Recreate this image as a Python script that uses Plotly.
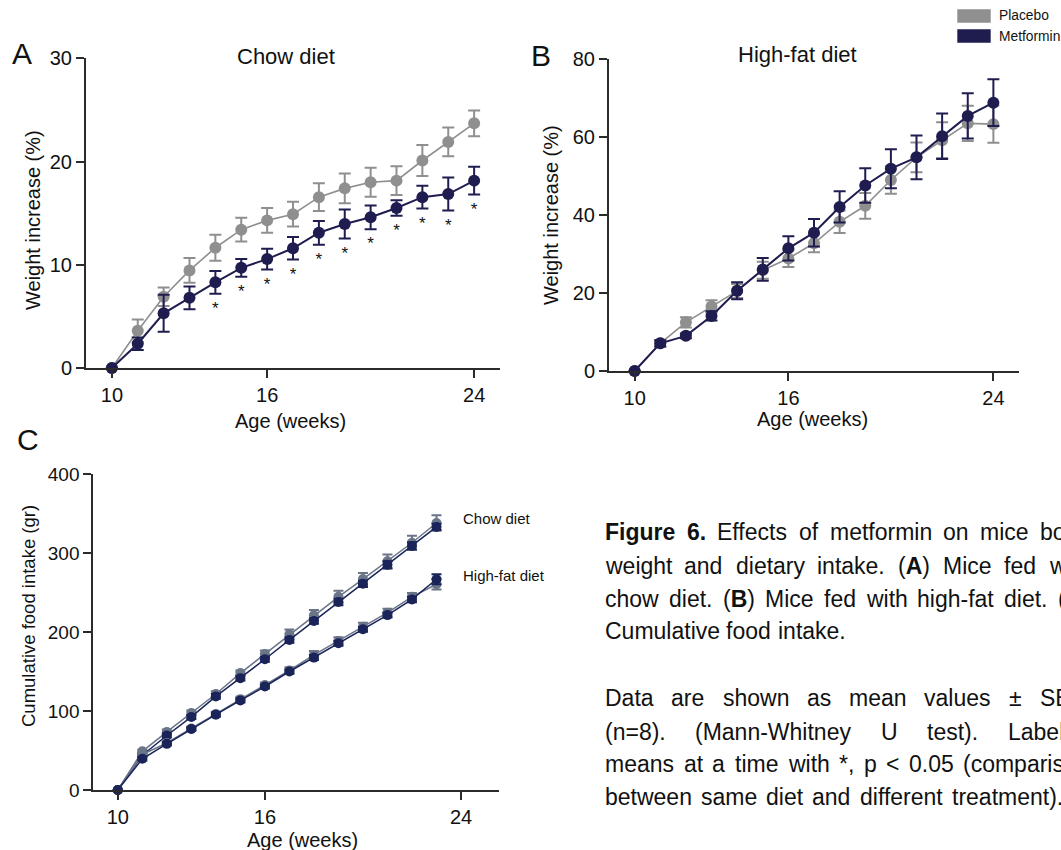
import plotly.graph_objects as go

W, H = 1061, 850
FONT = "Liberation Sans, Arial, Helvetica, sans-serif"

# ---------------- data ----------------
weeks_ab = list(range(10, 25))
weeks_c = list(range(10, 24))

# Panel A: chow diet, weight increase (%)
chow_placebo = [0, 3.6, 6.9, 9.45, 11.65, 13.4, 14.3, 14.9, 16.55, 17.4, 18.0, 18.15, 20.1, 21.9, 23.7]
chow_placebo_sem = [0, 1.1, 0.9, 1.2, 1.25, 1.15, 1.2, 1.2, 1.35, 1.45, 1.4, 1.4, 1.5, 1.4, 1.25]
chow_metformin = [0, 2.35, 5.3, 6.8, 8.3, 9.7, 10.55, 11.6, 13.1, 13.95, 14.6, 15.5, 16.55, 16.85, 18.15]
chow_metformin_sem = [0, 0.6, 1.8, 1.1, 1.1, 0.85, 1.0, 1.1, 1.15, 1.4, 1.15, 0.75, 1.1, 1.6, 1.35]
chow_significant = [False, False, False, False, True, True, True, True, True, True, True, True, True, True, True]

# Panel B: high-fat diet, weight increase (%)
hfd_placebo = [0, 7.1, 12.45, 16.5, 20.5, 25.8, 28.8, 32.7, 38.2, 42.3, 48.9, 54.7, 59.1, 63.4, 63.2]
hfd_placebo_sem = [0, 0.8, 1.3, 1.6, 1.8, 2.2, 2.2, 2.3, 2.9, 3.3, 3.5, 3.8, 4.6, 4.5, 4.8]
hfd_metformin = [0, 7.1, 9.0, 14.1, 20.55, 26.0, 31.4, 35.4, 42.0, 47.5, 51.8, 54.7, 60.1, 65.3, 68.7]
hfd_metformin_sem = [0, 0.8, 0.6, 1.2, 2.2, 2.9, 3.1, 3.5, 4.0, 4.4, 5.0, 5.6, 5.8, 5.8, 6.0]

# Panel C: cumulative food intake (gr)
chow_food_placebo = [0, 49, 73.5, 97.5, 121.5, 148, 172, 197, 221, 244.5, 267, 289.5, 313, 338]
chow_food_placebo_sem = [0, 2, 3, 3, 3.4, 3.4, 4.6, 6.3, 6.7, 7.6, 7.6, 8.5, 8.8, 9.7]
chow_food_metformin = [0, 44, 69, 92.5, 118.5, 141.5, 165.5, 190, 214, 238, 261, 285, 309, 333]
chow_food_metformin_sem = [0, 2, 2.5, 2.5, 3, 3, 3, 3.5, 3.5, 4, 4, 4.5, 4.5, 4]
hfd_food_placebo = [0, 45, 59.5, 77.7, 96.2, 115, 133, 151.3, 171, 188.6, 206.7, 224.4, 244.5, 260.5]
hfd_food_placebo_sem = [0, 2, 2, 2.5, 3, 3, 3, 4.2, 5, 4.6, 5, 5, 5, 6.7]
hfd_food_metformin = [0, 39.5, 58.4, 77.3, 95.4, 113.4, 131, 150, 167.6, 185.7, 203.4, 221.4, 241.2, 266.8]
hfd_food_metformin_sem = [0, 2, 2, 2, 2.5, 2.5, 2.5, 2.5, 3, 3, 3, 3, 3.5, 6.3]

x_ticks = [10, 16, 24]
y_ticks_a = [0, 10, 20, 30]
y_ticks_b = [0, 20, 40, 60, 80]
y_ticks_c = [0, 100, 200, 300, 400]

series_names = ["Placebo", "Metformin"]

# ---------------- style ----------------
GRAY = "#8f8f8f"
NAVY = "#1f1c4f"
GRAY_C = "#6b7588"
NAVY_C = "#1a2459"
AXC = "#2b2b2b"


def px(x):
    return x / W


def py(y):
    return 1 - y / H


fig = go.Figure()


def add_series(x, y, err, color, xa, ya, lw, ms, cap):
    fig.add_trace(go.Scatter(
        x=x, y=y, mode="lines+markers", xaxis=xa, yaxis=ya,
        line=dict(color=color, width=lw),
        marker=dict(color=color, size=ms),
        error_y=dict(type="data", array=err, visible=True, color=color,
                     thickness=2, width=cap),
        cliponaxis=False, showlegend=False, hoverinfo="skip"))


# Panel A
add_series(weeks_ab, chow_placebo, chow_placebo_sem, GRAY, "x", "y", 1.6, 12, 6)
add_series(weeks_ab, chow_metformin, chow_metformin_sem, NAVY, "x", "y", 2, 12, 6)
star_x = [w for w, s in zip(weeks_ab, chow_significant) if s]
star_y = [m - e - 1.55 for m, e, s in zip(chow_metformin, chow_metformin_sem, chow_significant) if s]
fig.add_trace(go.Scatter(x=star_x, y=star_y, mode="text", text=["*"] * len(star_x),
                         textfont=dict(size=17, color="#111", family=FONT),
                         xaxis="x", yaxis="y", cliponaxis=False, showlegend=False,
                         hoverinfo="skip"))

# Panel B
add_series(weeks_ab, hfd_placebo, hfd_placebo_sem, GRAY, "x2", "y2", 1.6, 12, 6)
add_series(weeks_ab, hfd_metformin, hfd_metformin_sem, NAVY, "x2", "y2", 2, 12, 6)

# Panel C
add_series(weeks_c, chow_food_placebo, chow_food_placebo_sem, GRAY_C, "x3", "y3", 1.5, 10, 5)
add_series(weeks_c, chow_food_metformin, chow_food_metformin_sem, NAVY_C, "x3", "y3", 1.5, 10, 5)
add_series(weeks_c, hfd_food_placebo, hfd_food_placebo_sem, GRAY_C, "x3", "y3", 1.5, 10, 5)
add_series(weeks_c, hfd_food_metformin, hfd_food_metformin_sem, NAVY_C, "x3", "y3", 1.5, 10, 5)


def axis(domain, rng, ticks, anchor, size=20):
    return dict(domain=domain, range=rng, tickvals=ticks, ticktext=[str(t) for t in ticks],
                ticks="outside", ticklen=8, tickwidth=2, tickcolor=AXC,
                showline=True, linewidth=2, linecolor=AXC, showgrid=False,
                zeroline=False, anchor=anchor, automargin=False,
                tickfont=dict(family=FONT, size=size, color="#111"), fixedrange=True)


layout = dict(
    width=W, height=H, autosize=False,
    margin=dict(l=0, r=0, t=0, b=0, pad=0, autoexpand=False),
    paper_bgcolor="white", plot_bgcolor="white",
    font=dict(family=FONT, color="#111"),
    showlegend=False,
    xaxis=axis([px(86), px(500)], [9, 25], x_ticks, "y"),
    yaxis=axis([py(368), py(58.3)], [0, 30], y_ticks_a, "x"),
    xaxis2=axis([px(609), px(1019)], [9, 25], x_ticks, "y2"),
    yaxis2=axis([py(371), py(58.5)], [0, 80], y_ticks_b, "x2"),
    xaxis3=axis([px(93.3), px(499)], [9, 25.55], x_ticks, "y3"),
    yaxis3=axis([py(790), py(474)], [0, 400], y_ticks_c, "x3", size=19),
)

ann = []


def text(x, y, s, size, xanchor="center", angle=0, color="#111"):
    ann.append(dict(x=px(x), y=py(y), xref="paper", yref="paper", text=s,
                    showarrow=False, xanchor=xanchor, yanchor="middle",
                    textangle=angle, font=dict(family=FONT, size=size, color=color)))


# panel letters and titles
text(21.5, 54, "A", 30)
text(541, 55.5, "B", 30)
text(28, 439, "C", 30)
text(286, 56, "Chow diet", 22)
text(797, 55, "High-fat diet", 22)
text(290, 421, "Age (weeks)", 20)
text(33, 220, "Weight increase (%)", 20, angle=-90)
text(812, 419, "Age (weeks)", 20)
text(551, 215, "Weight increase (%)", 20, angle=-90)
text(302, 840, "Age (weeks)", 20)
text(28, 616, "Cumulative food intake (gr)", 18.5, angle=-90)
text(461, 518.5, "Chow diet", 15, xanchor="left")
text(461, 575, "High-fat diet", 15, xanchor="left")

# legend
shapes = [
    dict(type="rect", xref="paper", yref="paper", x0=px(957.3), x1=px(990.7),
         y0=py(22.7), y1=py(9.3), fillcolor=GRAY, line=dict(width=0)),
    dict(type="rect", xref="paper", yref="paper", x0=px(957.3), x1=px(990.7),
         y0=py(42.7), y1=py(29.3), fillcolor=NAVY, line=dict(width=0)),
]
text(997, 16, series_names[0], 13.8, xanchor="left")
text(997, 36, series_names[1], 13.8, xanchor="left")

# ---------------- caption (justified, word by word) ----------------
REG = {'a': 556, 'b': 556, 'c': 500, 'd': 556, 'e': 556, 'f': 278, 'g': 556, 'h': 556,
       'i': 222, 'j': 222, 'k': 500, 'l': 222, 'm': 833, 'n': 556, 'o': 556, 'p': 556,
       'q': 556, 'r': 333, 's': 500, 't': 278, 'u': 556, 'v': 500, 'w': 722, 'x': 500,
       'y': 500, 'z': 500, 'A': 667, 'B': 667, 'C': 722, 'D': 722, 'E': 667, 'F': 611,
       'L': 556, 'M': 833, 'S': 667, 'U': 722, 'W': 944, '.': 278, ',': 278, '(': 333,
       ')': 333, '-': 333, '*': 389, '=': 584, '<': 584, '\u00b1': 584, ' ': 278}
for d in "0123456789":
    REG[d] = 556
BOLD = {'F': 611, 'i': 278, 'g': 611, 'u': 611, 'r': 389, 'e': 556, '6': 556,
        '.': 278, 'A': 722, 'B': 722, 'C': 722}


def word_width(word, size):
    total, bold, i = 0, False, 0
    while i < len(word):
        if word.startswith("<b>", i):
            bold, i = True, i + 3
            continue
        if word.startswith("</b>", i):
            bold, i = False, i + 4
            continue
        ch = word[i]
        total += (BOLD.get(ch, REG.get(ch, 556)) if bold else REG.get(ch, 556))
        i += 1
    return total / 1000 * size


CAP_SIZE = 23
CAP_LEFT = 604
CAP_RIGHT = 1089
caption_lines = [
    (532, "<b>Figure</b> <b>6.</b> Effects of metformin on mice body", "justify"),
    (565.5, "weight and dietary intake. (<b>A</b>) Mice fed with", "justify"),
    (598.5, "chow diet. (<b>B</b>) Mice fed with high-fat diet. (<b>C</b>)", "justify"),
    (631, "Cumulative food intake.", 6.4),
    (698, "Data are shown as mean values \u00b1 SEM", "justify"),
    (731.5, "(n=8). (Mann-Whitney U test). Labeled", "justify"),
    (764, "means at a time with *, p < 0.05 (comparison", "justify"),
    (797, "between same diet and different treatment).", 9.0),
]
for yc, line, mode in caption_lines:
    words = line.split(" ")
    widths = [word_width(w, CAP_SIZE) for w in words]
    if mode == "justify":
        gap = (CAP_RIGHT - CAP_LEFT - sum(widths)) / (len(words) - 1)
    else:
        gap = mode
    xpos = CAP_LEFT
    for w, wd in zip(words, widths):
        if xpos < W:
            ann.append(dict(x=px(xpos - 1), y=py(yc), xref="paper", yref="paper",
                            text=w, showarrow=False, xanchor="left", yanchor="middle",
                            font=dict(family=FONT, size=CAP_SIZE, color="#111")))
        xpos += wd + gap

layout["annotations"] = ann
layout["shapes"] = shapes
fig.update_layout(**layout)
fig.write_html("out.html")
